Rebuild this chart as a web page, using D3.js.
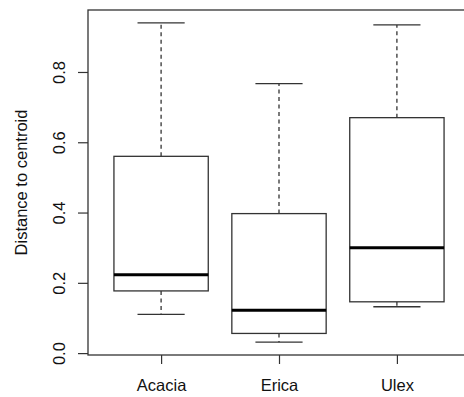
<!DOCTYPE html>
<html>
<head>
<meta charset="utf-8">
<script src="https://cdn.jsdelivr.net/npm/d3@7"></script>
<style>
	body { margin: 0; background: #fff; }
	svg text { font-family: "Liberation Sans", Arial, sans-serif; fill: #111; }
</style>
</head>
<body>
<div id="chart"></div>
<script>
// data
var categories = ["Acacia", "Erica", "Ulex"];
var whiskerLow = [0.110, 0.031, 0.132];
var q1 = [0.177, 0.056, 0.146];
var medians = [0.223, 0.122, 0.300];
var q3 = [0.560, 0.397, 0.670];
var whiskerHigh = [0.940, 0.767, 0.934];
var yTicks = [0.0, 0.2, 0.4, 0.6, 0.8];

var WIDTH = 464;
var HEIGHT = 397;
var margin = { top: 10, right: -6, bottom: 42, left: 88 };

var plotWidth = WIDTH - margin.left - margin.right;
var plotHeight = HEIGHT - margin.top - margin.bottom;

var boxes = categories.map((c, i) => ({
	key: c,
	lo: whiskerLow[i], q1: q1[i], med: medians[i], q3: q3[i], hi: whiskerHigh[i]
}));

var svg = d3.select("#chart").append("svg")
	.attr("width", WIDTH).attr("height", HEIGHT);

var inner = svg.append("g")
	.attr("transform", `translate(${margin.left},${margin.top})`);

// scales (R style: 4% padding on y range)
var yMin = d3.min(whiskerLow), yMax = d3.max(whiskerHigh);
var pad = (yMax - yMin) * 0.04;
var yScale = d3.scaleLinear().domain([yMin - pad, yMax + pad]).range([plotHeight, 0]);
var xScale = d3.scalePoint().domain(categories).range([0, plotWidth]).padding(0.62);

var boxW = xScale.step() * 0.8;
var capW = boxW / 2;
var stroke = "#333";

// frame
inner.append("rect")
	.attr("x", 0).attr("y", 0)
	.attr("width", plotWidth).attr("height", plotHeight)
	.attr("fill", "none").attr("stroke", stroke).attr("stroke-width", 1.3);

// axes
var yAxis = d3.axisLeft(yScale).tickValues(yTicks).tickFormat(d3.format(".1f"))
	.tickSize(10).tickSizeOuter(0);
var yAxisG = inner.append("g").call(yAxis);
yAxisG.select(".domain").remove();
yAxisG.selectAll("line").attr("stroke", stroke).attr("stroke-width", 1.2);
// rotated tick labels, R style
yAxisG.selectAll(".tick text")
	.attr("font-size", "16.5px")
	.attr("transform", "rotate(-90)")
	.attr("text-anchor", "middle")
	.attr("x", 0).attr("y", -23.5).attr("dy", 0);

var xAxis = d3.axisBottom(xScale).tickSize(9).tickSizeOuter(0).tickPadding(15);
var xAxisG = inner.append("g").attr("transform", `translate(0,${plotHeight})`).call(xAxis);
xAxisG.select(".domain").remove();
xAxisG.selectAll("line").attr("stroke", stroke).attr("stroke-width", 1.2);
xAxisG.selectAll("text").attr("font-size", "16.5px").attr("dy", "0.75em");

// y label
svg.append("text")
	.attr("transform", `translate(27,${margin.top + plotHeight / 2}) rotate(-90)`)
	.attr("text-anchor", "middle")
	.attr("font-size", "16.5px")
	.text("Distance to centroid");

// boxes
var g = inner.selectAll(".box").data(boxes).enter()
	.append("g").attr("class", "box")
	.attr("transform", d => `translate(${xScale(d.key)},0)`);

// whiskers
g.append("line")
	.attr("x1", 0).attr("x2", 0)
	.attr("y1", d => yScale(d.q3)).attr("y2", d => yScale(d.hi))
	.attr("stroke", stroke).attr("stroke-width", 1.3).attr("stroke-dasharray", "4,3.5");
g.append("line")
	.attr("x1", 0).attr("x2", 0)
	.attr("y1", d => yScale(d.q1)).attr("y2", d => yScale(d.lo))
	.attr("stroke", stroke).attr("stroke-width", 1.3).attr("stroke-dasharray", "4,3.5");

// staples
g.selectAll(".cap").data(d => [d.lo, d.hi]).enter()
	.append("line")
	.attr("x1", -capW / 2).attr("x2", capW / 2)
	.attr("y1", v => yScale(v)).attr("y2", v => yScale(v))
	.attr("stroke", stroke).attr("stroke-width", 1.3);

g.append("rect")
	.attr("x", -boxW / 2).attr("width", boxW)
	.attr("y", d => yScale(d.q3))
	.attr("height", d => yScale(d.q1) - yScale(d.q3))
	.attr("fill", "#fff").attr("stroke", stroke).attr("stroke-width", 1.3);

g.append("line")
	.attr("x1", -boxW / 2).attr("x2", boxW / 2)
	.attr("y1", d => yScale(d.med)).attr("y2", d => yScale(d.med))
	.attr("stroke", "#000").attr("stroke-width", 3);
</script>
</body>
</html>
